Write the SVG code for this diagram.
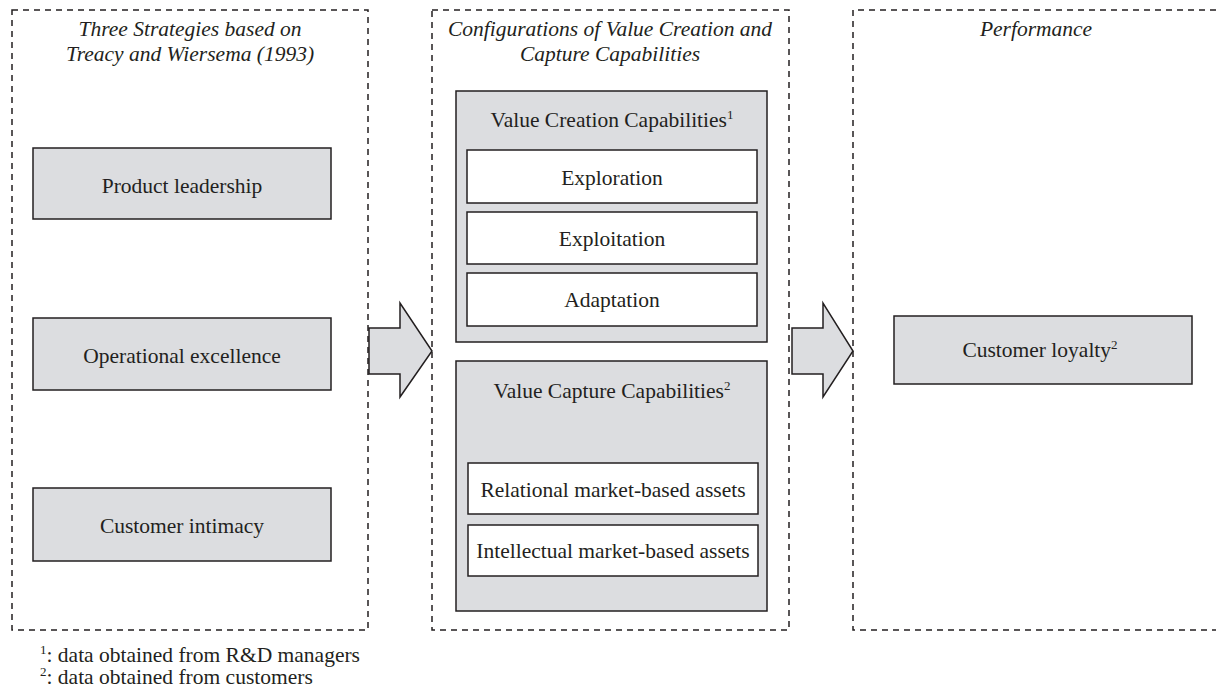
<svg xmlns="http://www.w3.org/2000/svg" width="1216" height="697" viewBox="0 0 1216 697">
<style>
.frame{fill:none;stroke:#231f20;stroke-width:1.5;stroke-dasharray:6,5}
.g{fill:#dcdde0;stroke:#231f20;stroke-width:1.5}
.w{fill:#ffffff;stroke:#231f20;stroke-width:1.5}
text{font-family:'Liberation Serif','DejaVu Serif',serif;fill:#231f20;font-size:21.5px}
.t{text-anchor:middle}
.h{font-style:italic;text-anchor:middle}
.s{font-size:13px}
</style>
<rect width="1216" height="697" fill="#ffffff"/>
<g id="col-strategies">
<rect class="frame" x="12" y="10" width="356" height="620"/>
<text class="h" x="190" y="36">Three Strategies based on</text>
<text class="h" x="190" y="61">Treacy and Wiersema (1993)</text>
</g>
<g id="col-config">
<rect class="frame" x="432" y="10" width="357" height="620"/>
<text class="h" x="610" y="36">Configurations of Value Creation and</text>
<text class="h" x="610" y="61">Capture Capabilities</text>
</g>
<g id="col-performance">
<path class="frame" d="M1216,10 H853 V630 H1216"/>
<text class="h" x="1036" y="36">Performance</text>
</g>
<g id="product-leadership">
<rect class="g" x="33" y="148" width="298" height="71"/>
<text class="t" x="182" y="193">Product leadership</text>
</g>
<g id="operational-excellence">
<rect class="g" x="33" y="318" width="298" height="72"/>
<text class="t" x="182" y="363">Operational excellence</text>
</g>
<g id="customer-intimacy">
<rect class="g" x="33" y="488" width="298" height="73"/>
<text class="t" x="182" y="533">Customer intimacy</text>
</g>
<g id="value-creation">
<rect class="g" x="456" y="91" width="311" height="251"/>
<text class="t" x="612" y="127">Value Creation Capabilities<tspan class="s" dy="-8">1</tspan></text>
</g>
<g id="exploration">
<rect class="w" x="467" y="150" width="290" height="53"/>
<text class="t" x="612" y="185">Exploration</text>
</g>
<g id="exploitation">
<rect class="w" x="467" y="212" width="290" height="52"/>
<text class="t" x="612" y="246">Exploitation</text>
</g>
<g id="adaptation">
<rect class="w" x="467" y="273" width="290" height="53"/>
<text class="t" x="612" y="307">Adaptation</text>
</g>
<g id="value-capture">
<rect class="g" x="456" y="361" width="311" height="250"/>
<text class="t" x="612" y="398">Value Capture Capabilities<tspan class="s" dy="-8">2</tspan></text>
</g>
<g id="relational">
<rect class="w" x="468" y="463" width="290" height="51"/>
<text class="t" x="613" y="497">Relational market-based assets</text>
</g>
<g id="intellectual">
<rect class="w" x="468" y="525" width="290" height="51"/>
<text class="t" x="613" y="558">Intellectual market-based assets</text>
</g>
<g id="customer-loyalty">
<rect class="g" x="894" y="316" width="298" height="68"/>
<text class="t" x="1040" y="357">Customer loyalty<tspan class="s" dy="-8">2</tspan></text>
</g>
<g id="connectors">
<polygon class="g" points="369,328 400,328 400,303 432,351 400,397 400,374 369,374"/>
<polygon class="g" points="792,328 823,328 823,303 853,351 823,397 823,374 792,374"/>
</g>
<g id="footnotes">
<text x="40" y="662"><tspan class="s" dy="-8">1</tspan><tspan dy="8">: data obtained from R&amp;D managers</tspan></text>
<text x="40" y="684"><tspan class="s" dy="-8">2</tspan><tspan dy="8">: data obtained from customers</tspan></text>
</g>
</svg>
